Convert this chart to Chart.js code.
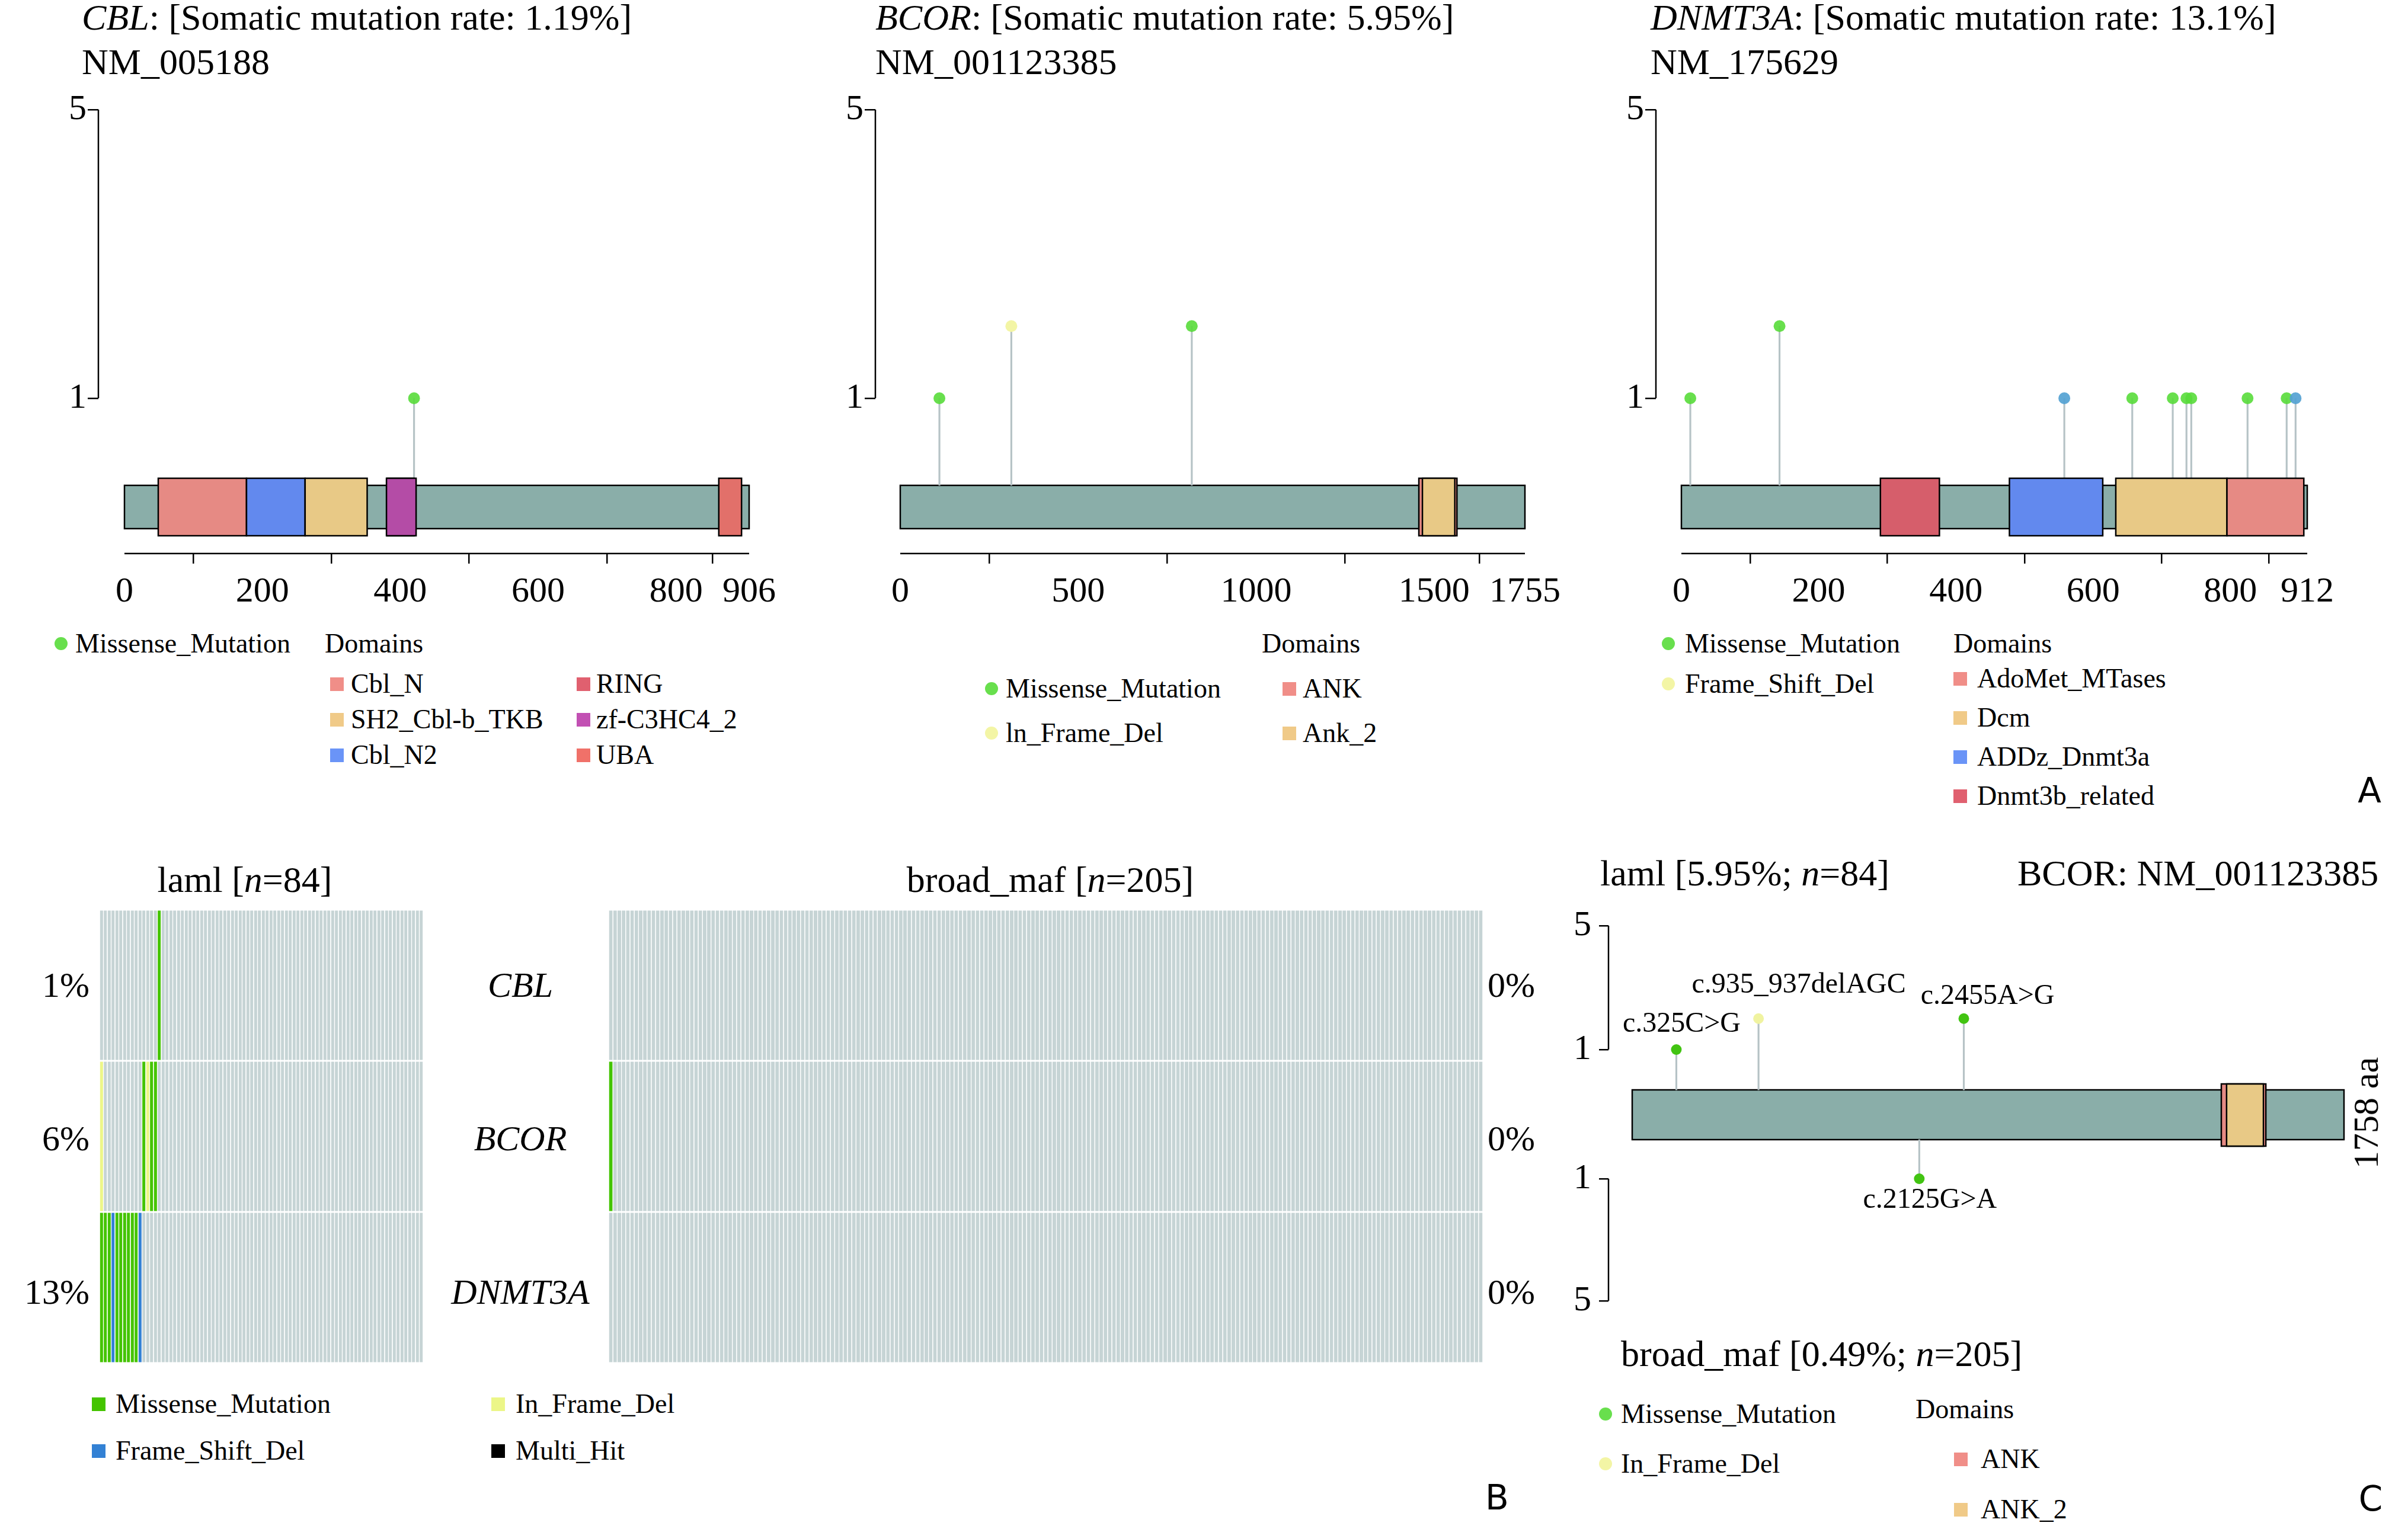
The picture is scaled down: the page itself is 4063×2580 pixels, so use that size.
<!DOCTYPE html>
<html>
<head>
<meta charset="utf-8">
<title>CBL / BCOR / DNMT3A lollipop and oncoplot</title>
<script src="https://cdn.jsdelivr.net/npm/chart.js@4.4.1/dist/chart.umd.min.js"></script>
<style>
  html, body { margin: 0; padding: 0; background: #fff; }
  #page { position: relative; width: 4063px; height: 2580px; overflow: hidden; background: #fff;
          font-family: 'Liberation Serif', 'Times New Roman', serif; color: #000; }
  #page canvas { position: absolute; }
  .t { position: absolute; white-space: nowrap; line-height: 1; }
  .dot { position: absolute; border-radius: 50%; }
  .sq { position: absolute; }
</style>
</head>
<body>
<div id="page"></div>
<script>
// ---------- panel A : lollipop data ----------
const cblLength = 906;
const cblTicks = [0, 200, 400, 600, 800, 906];
const cblMutPos = [420];
const cblMutCount = [1];
const cblMutType = ['Missense_Mutation'];
const cblDomName = ['Cbl_N', 'Cbl_N2', 'SH2_Cbl-b_TKB', 'RING', 'zf-C3HC4_2', 'UBA'];
const cblDomStart = [49, 177, 262, 381, 380, 862];
const cblDomEnd = [177, 262, 352, 420, 423, 895];

const bcorLength = 1755;
const bcorTicks = [0, 500, 1000, 1500, 1755];
const bcorMutPos = [110, 312, 819];
const bcorMutCount = [1, 2, 2];
const bcorMutType = ['Missense_Mutation', 'In_Frame_Del', 'Missense_Mutation'];
const bcorDomName = ['ANK', 'Ank_2'];
const bcorDomStart = [1457, 1467];
const bcorDomEnd = [1564, 1558];

const dnmt3aLength = 912;
const dnmt3aTicks = [0, 200, 400, 600, 800, 912];
const dnmt3aMutPos = [13, 143, 558, 657, 716, 736, 743, 825, 882, 895];
const dnmt3aMutCount = [1, 2, 1, 1, 1, 1, 1, 1, 1, 1];
const dnmt3aMutType = ['Missense_Mutation', 'Missense_Mutation', 'Frame_Shift_Del', 'Missense_Mutation',
  'Missense_Mutation', 'Missense_Mutation', 'Missense_Mutation', 'Missense_Mutation', 'Missense_Mutation',
  'Frame_Shift_Del'];
const dnmt3aDomName = ['Dnmt3b_related', 'ADDz_Dnmt3a', 'Dcm', 'AdoMet_MTases'];
const dnmt3aDomStart = [290, 478, 633, 795];
const dnmt3aDomEnd = [376, 614, 795, 907];

const yTickValues = [1, 5];

// ---------- panel B : oncoplot data ----------
const oncoGenes = ['CBL', 'BCOR', 'DNMT3A'];
const lamlSamples = 84;
const broadSamples = 205;
const lamlPct = ['1%', '6%', '13%'];
const broadPct = ['0%', '0%', '0%'];
const lamlCblCols = [15];
const lamlCblTypes = ['Missense_Mutation'];
const lamlBcorCols = [0, 11, 12, 13, 14];
const lamlBcorTypes = ['In_Frame_Del', 'Missense_Mutation', 'In_Frame_Del', 'Missense_Mutation', 'Missense_Mutation'];
const lamlDnmt3aCols = [0, 1, 2, 3, 4, 5, 6, 7, 8, 9, 10];
const lamlDnmt3aTypes = ['Missense_Mutation', 'Missense_Mutation', 'Missense_Mutation', 'Frame_Shift_Del',
  'Missense_Mutation', 'Missense_Mutation', 'Missense_Mutation', 'Missense_Mutation', 'Missense_Mutation',
  'Missense_Mutation', 'Frame_Shift_Del'];
const broadCblCols = [];
const broadCblTypes = [];
const broadBcorCols = [0];
const broadBcorTypes = ['Missense_Mutation'];
const broadDnmt3aCols = [];
const broadDnmt3aTypes = [];

// ---------- panel C : BCOR laml vs broad_maf ----------
const bcorCLength = 1758;
const bcorCDomName = ['ANK', 'ANK_2'];
const bcorCDomStart = [1455, 1468];
const bcorCDomEnd = [1565, 1559];
const lamlBcorPos = [109, 312, 819];
const lamlBcorCount = [1, 2, 2];
const lamlBcorType = ['Missense_Mutation', 'In_Frame_Del', 'Missense_Mutation'];
const lamlBcorLabel = ['c.325C>G', 'c.935_937delAGC', 'c.2455A>G'];
const broadBcorPos = [709];
const broadBcorCount = [1];
const broadBcorType = ['Missense_Mutation'];
const broadBcorLabel = ['c.2125G>A'];

// ---------- colours ----------
const dotColor = {
  Missense_Mutation: 'rgba(88,219,58,0.9)',
  In_Frame_Del: 'rgba(243,245,165,1)',
  Frame_Shift_Del: 'rgba(84,162,210,0.92)'
};
const dotColorC = {
  Missense_Mutation: 'rgb(66,196,18)',
  In_Frame_Del: 'rgb(240,243,160)'
};
const domFill = {
  'Cbl_N': '#e68a84', 'Cbl_N2': '#6289ee', 'SH2_Cbl-b_TKB': '#e8c986', 'RING': '#d95f6c',
  'zf-C3HC4_2': '#b44ca6', 'UBA': '#e2706a', 'ANK': '#e68a84', 'Ank_2': '#e8c986', 'ANK_2': '#e8c986',
  'AdoMet_MTases': '#e68a84', 'Dcm': '#e8c986', 'ADDz_Dnmt3a': '#6289ee', 'Dnmt3b_related': '#d65e6b'
};
const domKey = {
  'Cbl_N': '#f08e88', 'Cbl_N2': '#6a94f7', 'SH2_Cbl-b_TKB': '#f0ca88', 'RING': '#e0606f',
  'zf-C3HC4_2': '#c250b3', 'UBA': '#f07169', 'ANK': '#f08e88', 'Ank_2': '#f0ca88', 'ANK_2': '#f0ca88',
  'AdoMet_MTases': '#f08e88', 'Dcm': '#f0ca88', 'ADDz_Dnmt3a': '#6a94f7', 'Dnmt3b_related': '#e0606f'
};
const oncoColor = {
  Missense_Mutation: '#44c400', Frame_Shift_Del: '#3381d4', In_Frame_Del: '#ecf688', Multi_Hit: '#000000'
};
const cellGray = '#c6d4d5';
const proteinColor = '#8aaea9';
const stemColor = '#b6c3c6';

Chart.defaults.font.family = "'Liberation Serif', 'Times New Roman', serif";
Chart.defaults.color = '#000';

const page = document.getElementById('page');

function mkCanvas(left, top, w, h) {
  const c = document.createElement('canvas');
  c.width = w; c.height = h;
  c.style.left = left + 'px'; c.style.top = top + 'px';
  c.style.width = w + 'px'; c.style.height = h + 'px';
  page.appendChild(c);
  return c;
}

function text(x, y, html, size, align, extra) {
  const d = document.createElement('div');
  d.className = 't';
  d.innerHTML = html;
  d.style.left = x + 'px';
  d.style.top = (y - size / 2) + 'px';
  d.style.fontSize = size + 'px';
  if (align === 'center') d.style.transform = 'translateX(-50%)';
  if (align === 'right') d.style.transform = 'translateX(-100%)';
  if (extra) Object.assign(d.style, extra);
  page.appendChild(d);
  return d;
}

function keyColumn(labels, kind, colors, cx, textX, ys, fs) {
  labels.forEach((lab, i) => {
    const s = kind === 'dot' ? 22 : 23;
    const m = document.createElement('div');
    m.className = kind === 'dot' ? 'dot' : 'sq';
    m.style.left = (cx - s / 2) + 'px';
    m.style.top = (ys[i] - s / 2) + 'px';
    m.style.width = s + 'px';
    m.style.height = s + 'px';
    m.style.background = colors[i];
    page.appendChild(m);
    text(textX, ys[i], lab, fs);
  });
}

function box(ctx, x1, y1, x2, y2, fill) {
  ctx.fillStyle = fill;
  ctx.fillRect(x1, y1, x2 - x1, y2 - y1);
  ctx.strokeStyle = '#000';
  ctx.lineWidth = 2.5;
  ctx.strokeRect(x1, y1, x2 - x1, y2 - y1);
}

// protein bar, domains, axis segments and cDNA labels, all through the chart scales
const proteinPlugin = {
  id: 'protein',
  beforeDatasetsDraw(chart, args, o) {
    if (o.barTop == null) return;
    const x = chart.scales.x, y = chart.scales.y;
    box(chart.ctx, x.getPixelForValue(0), y.getPixelForValue(o.barTop),
        x.getPixelForValue(o.length), y.getPixelForValue(o.barBottom), proteinColor);
  },
  afterDatasetsDraw(chart, args, o) {
    const ctx = chart.ctx, x = chart.scales.x, y = chart.scales.y;
    ctx.save();
    (o.domains || []).forEach(d => box(ctx, x.getPixelForValue(d.start), y.getPixelForValue(o.domTop),
      x.getPixelForValue(d.end), y.getPixelForValue(o.domBottom), domFill[d.name]));
    ctx.strokeStyle = '#000';
    ctx.lineWidth = 2.5;
    const left = chart.chartArea.left;
    ctx.beginPath();
    ctx.moveTo(left, y.getPixelForValue(yTickValues[0]));
    ctx.lineTo(left, y.getPixelForValue(yTickValues[yTickValues.length - 1]));
    ctx.stroke();
    if (o.xLine) {
      const b = chart.chartArea.bottom;
      ctx.beginPath();
      ctx.moveTo(x.getPixelForValue(0), b);
      ctx.lineTo(x.getPixelForValue(o.length), b);
      ctx.stroke();
    }
    if (o.notes) {
      ctx.fillStyle = '#000';
      ctx.font = "48px 'Liberation Serif'";
      ctx.textAlign = 'center';
      ctx.textBaseline = 'middle';
      o.notes.forEach(n => {
        ctx.fillText(n.text, x.getPixelForValue(n.pos) + n.dx, y.getPixelForValue(n.count) + n.dy);
      });
    }
    ctx.restore();
  }
};

function yAxis(extra) {
  return Object.assign({
    type: 'linear', position: 'left',
    border: { display: false },
    grid: { drawOnChartArea: false, drawTicks: true, tickLength: 18, lineWidth: 2.5, color: '#000' },
    ticks: { font: { size: 60 }, padding: 2, color: '#000', callback: v => String(v) },
    afterBuildTicks: s => { s.ticks = yTickValues.map(v => ({ value: v })); }
  }, extra);
}

function lollipopDatasets(pos, count, type, base, colors, radius) {
  return [
    { type: 'bar', order: 2, backgroundColor: stemColor, barThickness: 2.5, clip: false,
      data: pos.map((p, i) => ({ x: p, y: [base, count[i]] })) },
    { type: 'scatter', order: 1, pointRadius: radius, pointHoverRadius: radius,
      pointBorderWidth: 0, pointBackgroundColor: type.map(t => colors[t]),
      data: pos.map((p, i) => ({ x: p, y: count[i] })) }
  ];
}

const AXW = 80, AXH = 110, PADT = 40, PADR = 90;

// panel A frame (pixels): y axis line, protein start/end, plot top/bottom, level 1 and 5
function lollipopA(f, len, ticks, pos, count, type, domName, domStart, domEnd) {
  const ppa = (f.x1 - f.x0) / len;
  const unit = (f.y1 - f.y5) / 4;
  const val = px => 1 + (f.y1 - px) / unit;
  const cl = f.axis - AXW, ct = f.top - PADT;
  const canvas = mkCanvas(cl, ct, f.x1 + PADR - cl, f.bottom + AXH - ct);
  new Chart(canvas, {
    type: 'scatter',
    data: { datasets: lollipopDatasets(pos, count, type, val(f.barTop), dotColor, 10) },
    options: {
      responsive: false, animation: false, devicePixelRatio: 1, events: [],
      layout: { padding: { left: 0, top: PADT, right: PADR, bottom: 0 } },
      plugins: {
        legend: { display: false }, tooltip: { enabled: false },
        protein: {
          length: len, barTop: val(f.barTop), barBottom: val(f.barBottom),
          domTop: val(f.domTop), domBottom: val(f.domBottom), xLine: true,
          domains: domName.map((n, i) => ({ name: n, start: domStart[i], end: domEnd[i] }))
        }
      },
      scales: {
        x: {
          type: 'linear', min: -(f.x0 - f.axis) / ppa, max: len, offset: false,
          border: { display: false },
          grid: { drawOnChartArea: false, drawTicks: true, tickLength: 17, lineWidth: 2.5, color: '#000' },
          ticks: { font: { size: 60 }, padding: 12, autoSkip: false, maxRotation: 0, color: '#000',
                   callback: v => String(v) },
          afterBuildTicks: s => { s.ticks = ticks.map(v => ({ value: v })); },
          afterFit: s => { s.height = AXH; }
        },
        y: yAxis({ min: val(f.bottom), max: val(f.top), afterFit: s => { s.width = AXW; } })
      }
    },
    plugins: [proteinPlugin]
  });
}

const rowA = { top: 150, bottom: 934, y1: 672, y5: 185, barTop: 819, barBottom: 892, domTop: 807, domBottom: 904 };
lollipopA(Object.assign({ axis: 166, x0: 210, x1: 1264 }, rowA), cblLength, cblTicks,
  cblMutPos, cblMutCount, cblMutType, cblDomName, cblDomStart, cblDomEnd);
lollipopA(Object.assign({ axis: 1477, x0: 1519, x1: 2573 }, rowA), bcorLength, bcorTicks,
  bcorMutPos, bcorMutCount, bcorMutType, bcorDomName, bcorDomStart, bcorDomEnd);
lollipopA(Object.assign({ axis: 2794, x0: 2837, x1: 3893 }, rowA), dnmt3aLength, dnmt3aTicks,
  dnmt3aMutPos, dnmt3aMutCount, dnmt3aMutType, dnmt3aDomName, dnmt3aDomStart, dnmt3aDomEnd);

// panel A titles
text(138, 29, '<i>CBL</i>: [Somatic mutation rate: 1.19%]', 62);
text(138, 104, 'NM_005188', 62);
text(1477, 29, '<i>BCOR</i>: [Somatic mutation rate: 5.95%]', 62);
text(1477, 104, 'NM_001123385', 62);
text(2785, 29, '<i>DNMT3A</i>: [Somatic mutation rate: 13.1%]', 62);
text(2785, 104, 'NM_175629', 62);

// panel A keys
keyColumn(['Missense_Mutation'], 'dot', [dotColor.Missense_Mutation], 103, 127, [1086], 46);
text(548, 1086, 'Domains', 46);
keyColumn(['Cbl_N', 'SH2_Cbl-b_TKB', 'Cbl_N2'], 'sq', [domKey['Cbl_N'], domKey['SH2_Cbl-b_TKB'], domKey['Cbl_N2']],
  568, 592, [1154, 1214, 1274], 46);
keyColumn(['RING', 'zf-C3HC4_2', 'UBA'], 'sq', [domKey['RING'], domKey['zf-C3HC4_2'], domKey['UBA']],
  984, 1006, [1154, 1214, 1274], 46);

text(2129, 1086, 'Domains', 46);
keyColumn(['Missense_Mutation', 'ln_Frame_Del'], 'dot', [dotColor.Missense_Mutation, dotColor.In_Frame_Del],
  1673, 1697, [1162, 1237], 46);
keyColumn(['ANK', 'Ank_2'], 'sq', [domKey['ANK'], domKey['Ank_2']], 2175, 2198, [1162, 1237], 46);

keyColumn(['Missense_Mutation', 'Frame_Shift_Del'], 'dot', [dotColor.Missense_Mutation, dotColor.In_Frame_Del],
  2815, 2843, [1086, 1154], 46);
text(3296, 1086, 'Domains', 46);
keyColumn(['AdoMet_MTases', 'Dcm', 'ADDz_Dnmt3a', 'Dnmt3b_related'], 'sq',
  [domKey['AdoMet_MTases'], domKey['Dcm'], domKey['ADDz_Dnmt3a'], domKey['Dnmt3b_related']],
  3307, 3336, [1145, 1211, 1277, 1343], 46);

// ---------- panel B : oncoplot as stacked bars ----------
function oncoplot(left, top, width, height, n, rows, bp) {
  const c = mkCanvas(left, top, width, height);
  const labels = Array.from({ length: n }, (_, i) => i + 1);
  const datasets = rows.slice().reverse().map(r => {
    const colors = labels.map(() => cellGray);
    r.cols.forEach((ci, k) => { colors[ci] = oncoColor[r.types[k]]; });
    return {
      label: r.gene, data: labels.map(() => 1), backgroundColor: colors,
      borderColor: '#ffffff', borderWidth: { top: 1.5, bottom: 1.5, left: 0, right: 0 }, borderSkipped: false,
      barPercentage: bp, categoryPercentage: 1
    };
  });
  new Chart(c, {
    type: 'bar',
    data: { labels, datasets },
    options: {
      responsive: false, animation: false, devicePixelRatio: 1, events: [],
      layout: { padding: 0 },
      plugins: { legend: { display: false }, tooltip: { enabled: false } },
      scales: {
        x: { stacked: true, display: false },
        y: { stacked: true, display: false, min: 0, max: oncoGenes.length }
      }
    }
  });
}

oncoplot(168, 1535, 546, 765, lamlSamples, [
  { gene: 'CBL', cols: lamlCblCols, types: lamlCblTypes },
  { gene: 'BCOR', cols: lamlBcorCols, types: lamlBcorTypes },
  { gene: 'DNMT3A', cols: lamlDnmt3aCols, types: lamlDnmt3aTypes }
], 0.82);
oncoplot(1027, 1535, 1475, 765, broadSamples, [
  { gene: 'CBL', cols: broadCblCols, types: broadCblTypes },
  { gene: 'BCOR', cols: broadBcorCols, types: broadBcorTypes },
  { gene: 'DNMT3A', cols: broadDnmt3aCols, types: broadDnmt3aTypes }
], 0.85);

text(413, 1484, 'laml [<i>n</i>=84]', 62, 'center');
text(1772, 1484, 'broad_maf [<i>n</i>=205]', 62, 'center');
const oncoRowY = [1662, 1921, 2180];
oncoGenes.forEach((g, i) => {
  text(151, oncoRowY[i], lamlPct[i], 60, 'right');
  text(878, oncoRowY[i], '<i>' + g + '</i>', 60, 'center');
  text(2510, oncoRowY[i], broadPct[i], 60);
});
keyColumn(['Missense_Mutation', 'Frame_Shift_Del'], 'sq', [oncoColor.Missense_Mutation, oncoColor.Frame_Shift_Del],
  166, 195, [2369, 2448], 46);
keyColumn(['In_Frame_Del', 'Multi_Hit'], 'sq', [oncoColor.In_Frame_Del, oncoColor.Multi_Hit],
  840, 870, [2369, 2448], 46);

// ---------- panel C : mirrored lollipop, one chart per cohort ----------
const frameC = { axis: 2714, x0: 2754, x1: 3955, up1: 1771, up5: 1562, dn1: 1989, dn5: 2195,
                 barTop: 1839, barBottom: 1923, domTop: 1829, domBottom: 1934 };

function trackC(top, bottom, toVal, reverse, pos, count, type, base, labels, offsets, protein) {
  const f = frameC;
  const ppa = (f.x1 - f.x0) / bcorCLength;
  const pad = 60, padR = 10;
  const cl = f.axis - AXW, ct = top - pad;
  const canvas = mkCanvas(cl, ct, f.x1 + padR - cl, bottom + pad - ct);
  const notes = labels.map((t, i) => ({ text: t, pos: pos[i], count: count[i], dx: offsets[i][0], dy: offsets[i][1] }));
  new Chart(canvas, {
    type: 'scatter',
    data: { datasets: lollipopDatasets(pos, count, type, base, dotColorC, 9) },
    options: {
      responsive: false, animation: false, devicePixelRatio: 1, events: [],
      layout: { padding: { left: 0, top: pad, right: padR, bottom: pad } },
      plugins: {
        legend: { display: false }, tooltip: { enabled: false },
        protein: Object.assign({ length: bcorCLength, xLine: false, notes }, protein)
      },
      scales: {
        x: { type: 'linear', display: false, offset: false, min: -(f.x0 - f.axis) / ppa, max: bcorCLength },
        y: yAxis({
          reverse,
          min: reverse ? toVal(top) : toVal(bottom),
          max: reverse ? toVal(bottom) : toVal(top),
          grid: { drawOnChartArea: false, drawTicks: true, tickLength: 16, lineWidth: 2.5, color: '#000' },
          ticks: { font: { size: 60 }, padding: 13, color: '#000', callback: v => String(v) },
          afterFit: s => { s.width = AXW; }
        })
      }
    },
    plugins: [proteinPlugin]
  });
}

(function () {
  const f = frameC;
  const uU = (f.up1 - f.up5) / 4, uD = (f.dn5 - f.dn1) / 4;
  const up = px => 1 + (f.up1 - px) / uU;
  const dn = px => 1 + (px - f.dn1) / uD;
  // laml track above the protein
  trackC(1530, 1950, up, false, lamlBcorPos, lamlBcorCount, lamlBcorType, up(f.barTop),
    lamlBcorLabel, [[9, -43], [68, -56], [40, -37]],
    { barTop: up(f.barTop), barBottom: up(f.barBottom), domTop: up(f.domTop), domBottom: up(f.domBottom),
      domains: bcorCDomName.map((n, i) => ({ name: n, start: bcorCDomStart[i], end: bcorCDomEnd[i] })) });
  // broad_maf track below, counted downwards
  trackC(1930, 2230, dn, true, broadBcorPos, broadBcorCount, broadBcorType, dn(f.barBottom),
    broadBcorLabel, [[18, 36]], {});
})();

text(2700, 1473, 'laml [5.95%; <i>n</i>=84]', 62);
text(3404, 1473, 'BCOR: NM_001123385', 62);
text(2735, 2284, 'broad_maf [0.49%; <i>n</i>=205]', 62);
text(3992, 1878, '1758 aa', 60, null, { transform: 'translate(-50%, -50%) rotate(-90deg)', top: '1878px' });
keyColumn(['Missense_Mutation', 'In_Frame_Del'], 'dot', [dotColor.Missense_Mutation, dotColor.In_Frame_Del],
  2709, 2735, [2386, 2470], 46);
text(3232, 2378, 'Domains', 46);
keyColumn(['ANK', 'ANK_2'], 'sq', [domKey['ANK'], domKey['ANK_2']], 3308, 3342, [2462, 2547], 46);

// panel letters
const letterStyle = { fontFamily: "'DejaVu Sans', sans-serif" };
text(3998, 1334, 'A', 58, 'center', letterStyle);
text(2526, 2527, 'B', 58, 'center', letterStyle);
text(4000, 2529, 'C', 58, 'center', letterStyle);
</script>
</body>
</html>
